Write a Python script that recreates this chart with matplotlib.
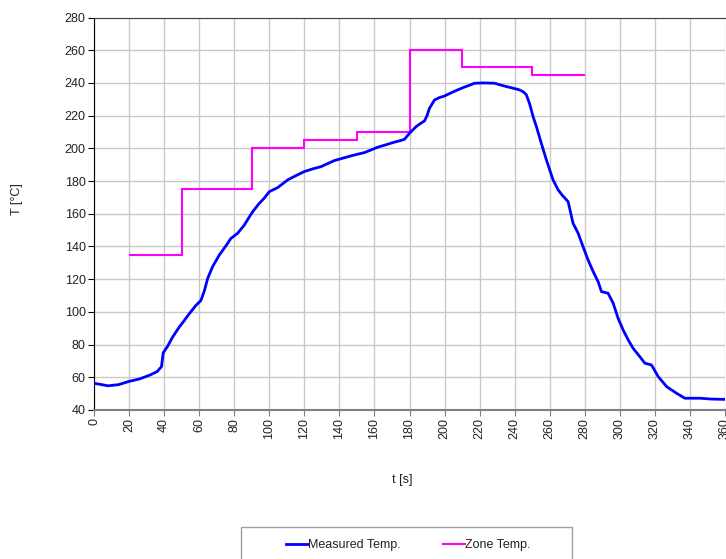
import matplotlib
matplotlib.use("Agg")
import matplotlib.pyplot as plt
from matplotlib.patches import Rectangle

plt.rcParams['font.family'] = ['Liberation Sans', 'DejaVu Sans']
plt.rcParams['text.color'] = '#222222'
plt.rcParams['xtick.labelcolor'] = '#222222'
plt.rcParams['ytick.labelcolor'] = '#222222'

# Measured temperature
t_meas = [0, 3, 8, 14, 20, 26, 32, 36, 38.5, 39.5, 42, 44.8, 48.6, 51, 54.3, 58.1, 61, 63,
          64.8, 67.6, 71.4, 75, 78.1, 81.9, 85.7, 88, 90.5, 94, 97, 100, 104.8, 110.5, 115,
          120, 125, 129.5, 133, 137.1, 142, 146.7, 150, 154.3, 158, 161.9, 166, 170.5, 175,
          177.1, 180, 183.8, 186, 188.6, 190, 191.4, 194.3, 197, 200, 203.8, 207, 210.5,
          214, 217.1, 222, 228.6, 232, 235.2, 239, 242.9, 245, 246.7, 248.6, 250.5, 252.4,
          255.2, 258.1, 261.9, 264.8, 267, 270.5, 273.3, 276.2, 279, 281.9, 284.8, 287.6,
          289.5, 293.3, 296.2, 299, 301.9, 304.8, 307.6, 311.4, 314.3, 318.1, 321.9, 326.7,
          332.4, 337.1, 345.7, 352, 360]
T_meas = [56.3, 55.8, 54.8, 55.5, 57.5, 59, 61.4, 63.5, 66.5, 75, 79, 84.5, 90.7, 94, 98.8,
          103.9, 107, 113, 120.3, 127.5, 134.6, 140, 144.9, 148, 153, 157, 161.2, 166, 169.4,
          173.5, 176, 180.7, 183.2, 185.8, 187.5, 188.8, 190.5, 192.5, 194, 195.4, 196.3,
          197.4, 199, 200.7, 202, 203.5, 204.8, 205.5, 209.2, 213.3, 215, 216.8, 220, 224.5,
          229.6, 231, 232, 234, 235.5, 237.1, 238.5, 239.8, 240, 239.8, 238.7, 237.8, 236.8,
          235.7, 234.5, 232.7, 227, 219.4, 213.3, 203.1, 192.9, 180.7, 174.6, 171.5, 167.4,
          154.2, 148.1, 139.9, 131.7, 124.6, 118.5, 112.4, 111.4, 105.3, 96.1, 88.9, 82.8,
          77.7, 72.6, 68.6, 67.5, 60.4, 54.3, 50.2, 47.2, 47.2, 46.7, 46.5]

# Zone set temperatures
zone_edges = [20, 50, 90, 120, 150, 180, 210, 250, 280]
zone_temps = [135, 175, 200, 205, 210, 260, 250, 245]

fig = plt.figure(figsize=(7.26, 5.59), dpi=100)
ax = fig.add_axes([94 / 726, 1 - 410 / 559, (725 - 94) / 726, (410 - 17.5) / 559])

ax.plot(t_meas, T_meas, color='#0000FF', lw=2, label='Measured Temp.', zorder=3)
ax.stairs(zone_temps, zone_edges, baseline=None, color='#FF00FF', lw=1.5,
          label='Zone Temp.', zorder=2)

ax.set_xlim(0, 360)
ax.set_ylim(40, 280)
ax.set_xticks(range(0, 361, 20))
ax.set_yticks(range(40, 281, 20))
ax.grid(True, color='#c8c8c8', lw=1)
ax.set_axisbelow(True)

ax.tick_params(axis='x', labelrotation=90, labelsize=9, length=4, color='#808080', pad=2)
ax.tick_params(axis='y', labelsize=9, length=4, color='black', pad=2)
ax.spines['left'].set_color('black')
ax.spines['bottom'].set_color('#808080')
ax.spines['bottom'].set_linewidth(1.5)
ax.spines['top'].set_color('#404040')
ax.spines['right'].set_visible(False)

fig.text(17 / 726, 1 - 199 / 559, 'T [°C]', rotation=90, ha='center', va='center', fontsize=9)
fig.text(402 / 726, 1 - 480 / 559, 't [s]', ha='center', va='center', fontsize=9)

# legend box runs off the bottom of the figure
fig.patches.append(Rectangle((241 / 726, -0.1), 331 / 726, 0.1 + (559 - 527) / 559,
                             transform=fig.transFigure, fill=False, edgecolor='#a0a0a0',
                             lw=1, clip_on=False))
fig.legend(loc='center left', bbox_to_anchor=(280 / 726, 1 - 545 / 559), ncol=2,
           frameon=False, fontsize=9, borderpad=0, handlelength=1.75,
           handletextpad=0.0, columnspacing=3.4)

fig.savefig('out.png', dpi=100)
